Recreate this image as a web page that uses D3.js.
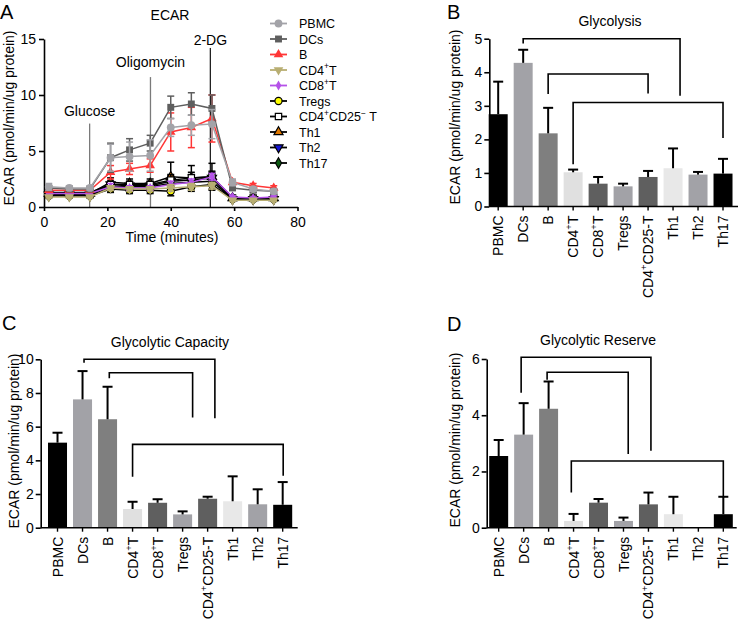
<!DOCTYPE html>
<html><head><meta charset="utf-8">
<script src="https://cdn.jsdelivr.net/npm/d3@7"></script>
<style>
body{margin:0;background:#fff}
svg{display:block}
text{font-family:"Liberation Sans",Arial,Helvetica,sans-serif;fill:#000}
</style>
</head><body>
<svg id="c" width="740" height="624"></svg>
<script>
// ---------------- Panel A data ----------------
const times = [1.5, 8, 14.5, 21, 27, 33.5, 40, 46.5, 53, 59.5, 66, 72.5];
const timeTicks = [0, 20, 40, 60, 80];
const ecarTicks = [0, 5, 10, 15];
const seriesNames = ['PBMC','DCs','B','CD4^+T','CD8^+T','Tregs','CD4^+CD25^− T','Th1','Th2','Th17'];
const pbmcVals  = [1.8,1.7,1.7, 4.4,4.5,4.6, 7.1,7.3,7.4, 2.2,1.6,1.4];
const pbmcErr   = [0.3,0.2,0.2, 1.2,1.3,1.4, 0.8,0.9,1.3, 0.3,0.2,0.2];
const dcsVals   = [1.7,1.6,1.6, 4.4,5.1,5.7, 8.9,9.2,8.8, 1.7,1.5,1.4];
const dcsErr    = [0.2,0.2,0.2, 1.3,1.0,0.7, 1.0,1.0,1.2, 0.2,0.2,0.2];
const bVals     = [1.5,1.5,1.5, 3.1,3.4,3.7, 6.7,7.1,7.9, 2.2,1.9,1.7];
const bErr      = [0.2,0.2,0.2, 0.6,0.5,0.6, 1.7,1.8,2.1, 0.2,0.2,0.2];
const cd4Vals   = [0.9,0.9,0.9, 1.7,1.6,1.6, 1.7,1.8,1.9, 0.6,0.6,0.6];
const cd4Err    = [0.1,0.1,0.1, 0.2,0.2,0.2, 0.3,0.3,0.3, 0.1,0.1,0.1];
const cd8Vals   = [1.2,1.2,1.2, 1.8,1.7,1.7, 2.0,2.2,2.7, 0.9,0.8,0.9];
const cd8Err    = [0.1,0.1,0.1, 0.3,0.2,0.2, 0.3,0.3,0.3, 0.1,0.1,0.1];
const tregVals  = [1.0,1.0,1.0, 1.6,1.5,1.5, 1.4,1.8,2.0, 0.7,0.7,0.7];
const tregErr   = [0.1,0.1,0.1, 0.3,0.3,0.3, 0.4,0.4,0.4, 0.1,0.1,0.1];
const cd25Vals  = [1.3,1.3,1.3, 2.0,2.0,2.0, 2.4,2.6,2.7, 0.8,0.8,0.8];
const cd25Err   = [0.2,0.2,0.2, 0.3,0.3,0.3, 0.5,0.5,0.5, 0.1,0.1,0.1];
const th1Vals   = [1.2,1.2,1.2, 2.2,2.1,2.1, 2.7,2.6,2.7, 0.8,0.8,0.8];
const th1Err    = [0.2,0.2,0.2, 0.4,0.4,0.4, 1.3,1.1,1.2, 0.1,0.1,0.1];
const th2Vals   = [1.1,1.1,1.1, 2.0,1.9,1.9, 2.3,2.4,2.6, 0.7,0.7,0.7];
const th2Err    = [0.2,0.2,0.2, 0.3,0.3,0.3, 0.5,0.5,0.5, 0.1,0.1,0.1];
const th17Vals  = [1.0,1.0,1.0, 1.8,1.8,1.8, 2.1,2.2,2.3, 0.7,0.7,0.7];
const th17Err   = [0.2,0.2,0.2, 0.3,0.3,0.3, 0.4,0.4,0.4, 0.1,0.1,0.1];
const treatments = ['Glucose','Oligomycin','2-DG'];
const treatmentTimes = [14.4, 33.6, 52.5];
const treatmentLineTop = [7.45, 11.6, 14.2];
const treatmentLabelY = [8.1, 12.5, 14.5];

// ---------------- Bar panels data ----------------
const cats = ['PBMC','DCs','B','CD4+T','CD8+T','Tregs','CD4+CD25-T','Th1','Th2','Th17'];
const catLabels = ['PBMC','DCs','B','CD4^+T','CD8^+T','Tregs','CD4^+CD25-T','Th1','Th2','Th17'];
const glycolysis    = [2.75,4.28,2.18,1.02,0.68,0.60,0.88,1.14,0.95,0.98];
const glycolysisErr = [0.97,0.39,0.76,0.08,0.20,0.08,0.18,0.59,0.08,0.44];
const capacity      = [5.05,7.62,6.44,1.11,1.48,0.79,1.72,1.57,1.39,1.36];
const capacityErr   = [0.59,1.68,1.93,0.43,0.21,0.18,0.12,1.48,0.89,1.35];
const reserve       = [2.55,3.31,4.23,0.24,0.89,0.24,0.83,0.48,0.00,0.48];
const reserveErr    = [0.57,1.12,0.97,0.25,0.13,0.12,0.42,0.62,0.00,0.62];
const glycolysisTicks = [0,1,2,3,4,5];
const capacityTicks = [0,2,4,6,8,10];
const reserveTicks = [0,2,4,6];
// significance brackets: categories, bracket top, leg ends (data units)
const bracketsB = [
  {from:'DCs', to:'Th1', top:5.0, fromEnd:4.86, toEnd:3.3, fromShift:0, toShift:0.28},
  {from:'B', to:'CD4+CD25-T', top:3.95, fromEnd:3.35, toEnd:3.37, fromShift:0, toShift:0},
  {from:'CD4+T', to:'Th17', top:3.1, fromEnd:1.26, toEnd:2.04, fromShift:0, toShift:0}
];
const bracketsC = [
  {from:'DCs', to:'CD4+CD25-T', top:10.0, fromEnd:9.8, toEnd:6.5, fromShift:0.06, toShift:0.29},
  {from:'B', to:'Tregs', top:9.2, fromEnd:8.87, toEnd:6.55, fromShift:0.07, toShift:0.4},
  {from:'CD4+T', to:'Th17', top:4.95, fromEnd:3.03, toEnd:3.09, fromShift:0, toShift:0.02}
];
const bracketsD = [
  {from:'DCs', to:'CD4+CD25-T', top:6.06, fromEnd:4.8, toEnd:2.74, fromShift:-0.1, toShift:0.1},
  {from:'B', to:'Tregs', top:5.53, fromEnd:5.26, toEnd:2.62, fromShift:-0.06, toShift:0.19},
  {from:'CD4+T', to:'Th17', top:2.37, fromEnd:1.25, toEnd:1.07, fromShift:-0.09, toShift:0}
];

// ---------------- styles ----------------
const barColors = ['#000000','#a2a2a7','#7f7f7f','#e0e0e0','#5f5f5f','#a2a2a7','#5f5f5f','#e8e8e8','#a2a2a7','#000000'];
const FS = 14;

const svg = d3.select('#c');

function rich(t, str, base){
  const parts=[]; let buf=''; let i=0;
  while(i<str.length){
    if(str[i]==='^'){ if(buf) parts.push({t:buf,sup:false}); buf=''; parts.push({t:str[i+1],sup:true}); i+=2; }
    else { buf+=str[i]; i++; }
  }
  if(buf) parts.push({t:buf,sup:false});
  let raised=false;
  parts.forEach(p=>{
    const ts=t.append('tspan').text(p.t);
    if(p.sup){ ts.attr('font-size', base*0.68).attr('dy', -base*0.42); raised=true; }
    else if(raised){ ts.attr('dy', base*0.42); raised=false; }
  });
}

function styleAxis(g){
  g.selectAll('path.domain').attr('stroke','#000').attr('stroke-width',1.6);
  g.selectAll('.tick line').attr('stroke','#000').attr('stroke-width',1.6);
  g.selectAll('.tick text').attr('font-size',FS).attr('font-family','"Liberation Sans",Arial,sans-serif').attr('fill','#000');
}

// ================= Panel A =================
(function(){
  const x = d3.scaleLinear().domain([0,80]).range([44,297.5]);
  const y = d3.scaleLinear().domain([0,15]).range([207,39]);
  const g = svg.append('g');
  g.append('text').attr('x',0).attr('y',18.5).attr('font-size',20).text('A');
  g.append('text').attr('x',170).attr('y',20).attr('text-anchor','middle').attr('font-size',FS).text('ECAR');
  g.append('text').attr('transform','translate(13.5,118) rotate(-90)').attr('text-anchor','middle').attr('font-size',FS).text('ECAR (pmol/min/ug protein)');
  g.append('text').attr('x',172).attr('y',241.5).attr('text-anchor','middle').attr('font-size',FS).text('Time (minutes)');

  // treatment lines
  const lineCols = ['#7a7a7a','#7a7a7a','#222'];
  treatments.forEach((tr,i)=>{
    g.append('line').attr('x1',x(treatmentTimes[i])).attr('x2',x(treatmentTimes[i]))
      .attr('y1',y(treatmentLineTop[i])).attr('y2',y(0)).attr('stroke',lineCols[i]).attr('stroke-width',1.3);
    g.append('text').attr('x',x(treatmentTimes[i])).attr('y',y(treatmentLabelY[i])).attr('text-anchor','middle')
      .attr('font-size',FS).text(tr);
  });

  const ya = g.append('g').attr('transform','translate(44,0)')
    .call(d3.axisLeft(y).tickValues(ecarTicks).tickFormat(d3.format('d')).tickSize(5).tickPadding(3).tickSizeOuter(0));
  styleAxis(ya);
  const xa = g.append('g').attr('transform','translate(0,207)')
    .call(d3.axisBottom(x).tickValues(timeTicks).tickFormat(d3.format('d')).tickSize(4).tickPadding(6).tickSizeOuter(0));
  styleAxis(xa);

  const series = [
    {name:seriesNames[0], v:pbmcVals, e:pbmcErr, line:'#a3a3a8', fill:'#a3a3a8', stroke:'none', sym:d3.symbolCircle, size:48, rot:0},
    {name:seriesNames[1], v:dcsVals, e:dcsErr, line:'#5e5e5e', fill:'#5e5e5e', stroke:'none', sym:d3.symbolSquare, size:48, rot:0},
    {name:seriesNames[2], v:bVals, e:bErr, line:'#ff3636', fill:'#ff3636', stroke:'none', sym:d3.symbolTriangle, size:40, rot:0},
    {name:seriesNames[3], v:cd4Vals, e:cd4Err, line:'#b8ae72', fill:'#b8ae72', stroke:'none', sym:d3.symbolTriangle, size:40, rot:180},
    {name:seriesNames[4], v:cd8Vals, e:cd8Err, line:'#b552e8', fill:'#b552e8', stroke:'none', sym:d3.symbolDiamond, size:28, rot:0},
    {name:seriesNames[5], v:tregVals, e:tregErr, line:'#000', fill:'#ffff00', stroke:'#000', sym:d3.symbolCircle, size:40, rot:0},
    {name:seriesNames[6], v:cd25Vals, e:cd25Err, line:'#000', fill:'#ffffff', stroke:'#000', sym:d3.symbolSquare, size:40, rot:0},
    {name:seriesNames[7], v:th1Vals, e:th1Err, line:'#000', fill:'#e07800', stroke:'#000', sym:d3.symbolTriangle, size:36, rot:0},
    {name:seriesNames[8], v:th2Vals, e:th2Err, line:'#000', fill:'#1414d4', stroke:'#000', sym:d3.symbolTriangle, size:36, rot:180},
    {name:seriesNames[9], v:th17Vals, e:th17Err, line:'#000', fill:'#0b5a12', stroke:'#000', sym:d3.symbolDiamond, size:32, rot:0}
  ];
  const drawOrder = [9,8,7,6,5,4,3,2,1,0];
  const lineGen = d3.line().x(d=>x(d[0])).y(d=>y(d[1]));
  drawOrder.forEach(si=>{
    const s = series[si];
    const sg = g.append('g');
    const pts = times.map((t,i)=>[t,s.v[i],s.e[i]]);
    pts.forEach(p=>{
      const cx=x(p[0]);
      sg.append('line').attr('x1',cx).attr('x2',cx).attr('y1',y(p[1]-p[2])).attr('y2',y(p[1]+p[2])).attr('stroke',s.line).attr('stroke-width',1.5);
      [p[1]-p[2],p[1]+p[2]].forEach(v=>{
        sg.append('line').attr('x1',cx-3.5).attr('x2',cx+3.5).attr('y1',y(v)).attr('y2',y(v)).attr('stroke',s.line).attr('stroke-width',1.5);
      });
    });
    sg.append('path').attr('d',lineGen(pts)).attr('fill','none').attr('stroke',s.line).attr('stroke-width',1.5);
    pts.forEach(p=>{
      sg.append('path').attr('d',d3.symbol(s.sym,s.size)())
        .attr('transform',`translate(${x(p[0])},${y(p[1])}) rotate(${s.rot})`)
        .attr('fill',s.fill).attr('stroke',s.stroke).attr('stroke-width',1.2);
    });
  });

  // legend
  const lg = g.append('g');
  series.forEach((s,i)=>{
    const ly = 23.5 + i*15.5;
    lg.append('line').attr('x1',270).attr('x2',287).attr('y1',ly).attr('y2',ly).attr('stroke',s.line).attr('stroke-width',1.8);
    lg.append('path').attr('d',d3.symbol(s.sym,s.size)()).attr('transform',`translate(278.5,${ly}) rotate(${s.rot})`)
      .attr('fill',s.fill).attr('stroke',s.stroke).attr('stroke-width',1.2);
    const t = lg.append('text').attr('x',299).attr('y',ly+4.5).attr('font-size',12.5);
    rich(t, s.name, 12.5);
  });
})();

// ================= Bar panels =================
function barPanel(cfg){
  const g = svg.append('g');
  const y = d3.scaleLinear().domain([0,cfg.yMax]).range([cfg.y0, cfg.yTop]);
  const x = d3.scalePoint().domain(cats).range(cfg.xRange).padding(0.5);
  const step = x.step();
  const bw = step*0.76;
  g.append('text').attr('x',cfg.letter[0]).attr('y',cfg.letter[1]).attr('font-size',20).text(cfg.letterText);
  g.append('text').attr('x',cfg.title[0]).attr('y',cfg.title[1]).attr('text-anchor','middle').attr('font-size',FS).text(cfg.titleText);
  g.append('text').attr('transform',`translate(${cfg.ylab[0]},${cfg.ylab[1]}) rotate(-90)`).attr('text-anchor','middle').attr('font-size',FS).text('ECAR (pmol/min/ug protein)');

  cats.forEach((c,i)=>{
    const v = cfg.values[i];
    if(v>0){
      g.append('rect').attr('x',x(c)-bw/2).attr('y',y(v)).attr('width',bw).attr('height',y(0)-y(v)).attr('fill',barColors[i]);
    }
  });
  cats.forEach((c,i)=>{
    const v = cfg.values[i], e = cfg.errors[i];
    if(e>0){
      const cx = x(c);
      g.append('line').attr('x1',cx).attr('x2',cx).attr('y1',y(v)).attr('y2',y(v+e)).attr('stroke','#000').attr('stroke-width',2);
      g.append('line').attr('x1',cx-5).attr('x2',cx+5).attr('y1',y(v+e)).attr('y2',y(v+e)).attr('stroke','#000').attr('stroke-width',2);
    }
  });
  cfg.brackets.forEach(b=>{
    const x1 = x(b.from)+b.fromShift*step, x2 = x(b.to)+b.toShift*step;
    g.append('path').attr('d',`M${x1},${y(b.fromEnd)}V${y(b.top)}H${x2}V${y(b.toEnd)}`)
      .attr('fill','none').attr('stroke','#000').attr('stroke-width',1.6);
  });
  const ya = g.append('g').attr('transform',`translate(${cfg.axisX},0)`)
    .call(d3.axisLeft(y).tickValues(cfg.ticks).tickFormat(d3.format('d')).tickSize(5).tickPadding(2).tickSizeOuter(0));
  styleAxis(ya);
  g.append('line').attr('x1',cfg.axisX).attr('x2',cfg.axisEnd).attr('y1',y(0)).attr('y2',y(0)).attr('stroke','#000').attr('stroke-width',1.6);
  cats.forEach((c,i)=>{
    g.append('line').attr('x1',x(c)).attr('x2',x(c)).attr('y1',y(0)).attr('y2',y(0)+4).attr('stroke','#000').attr('stroke-width',1.4);
    const t = g.append('text').attr('transform',`translate(${x(c)},${y(0)+9}) rotate(-90)`)
      .attr('text-anchor','end').attr('x',0).attr('y',FS*0.36).attr('font-size',FS);
    rich(t, catLabels[i], FS);
  });
}

barPanel({values:glycolysis, errors:glycolysisErr, yMax:5, ticks:glycolysisTicks, y0:206.5, yTop:38.7,
  xRange:[485.7,735.5], axisX:489.3, axisEnd:738, brackets:bracketsB,
  letter:[447,18.5], letterText:'B', title:[610,25.5], titleText:'Glycolysis', ylab:[459.5,117]});
barPanel({values:capacity, errors:capacityErr, yMax:10, ticks:capacityTicks, y0:527.7, yTop:359.3,
  xRange:[45,295.2], axisX:40.7, axisEnd:297.7, brackets:bracketsC,
  letter:[2,330], letterText:'C', title:[170,347], titleText:'Glycolytic Capacity', ylab:[19,441]});
barPanel({values:reserve, errors:reserveErr, yMax:6, ticks:reserveTicks, y0:527.7, yTop:359,
  xRange:[486.2,735.8], axisX:486.7, axisEnd:736.7, brackets:bracketsD,
  letter:[447,330.5], letterText:'D', title:[598,344.5], titleText:'Glycolytic Reserve', ylab:[459.5,440]});
</script>
</body></html>
